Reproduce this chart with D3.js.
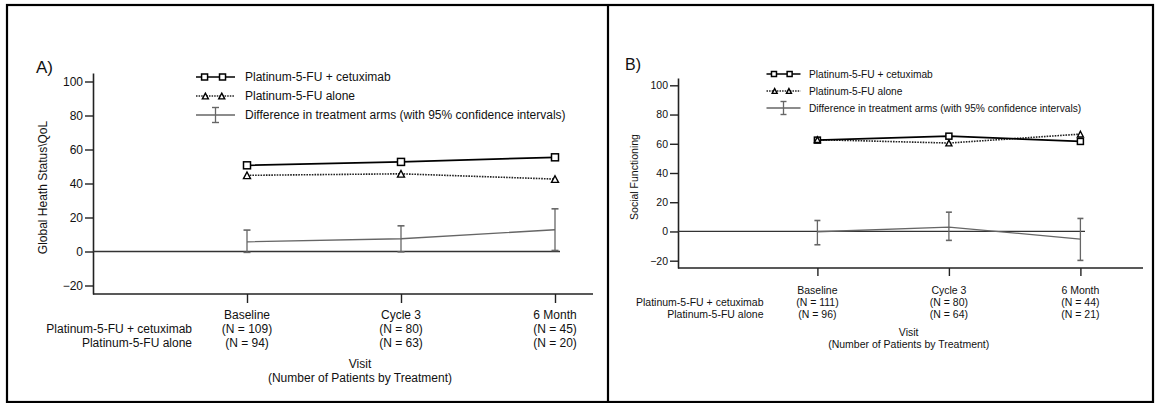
<!DOCTYPE html>
<html lang="en">
<head>
    <meta charset="UTF-8">
    <title>Quality of life by visit</title>
    <script src="https://d3js.org/d3.v7.min.js"></script>
    <style>
        body { margin: 0; background: #fff; }
        svg text { font-family: "Liberation Sans", Arial, Helvetica, sans-serif; fill: #111; }
        .axis path, .axis line { stroke: #222; }
    </style>
</head>
<body>
    <svg id="chart" width="1159" height="403"></svg>

    <script>
        // Shared labels
        const visits = ["Baseline", "Cycle 3", "6 Month"];
        const yTicks = [-20, 0, 20, 40, 60, 80, 100];
        const yDomain = [-25, 105];
        const armLabels = ["Platinum-5-FU + cetuximab", "Platinum-5-FU alone"];
        const legendLabels = ["Platinum-5-FU + cetuximab", "Platinum-5-FU alone",
            "Difference in treatment arms (with 95% confidence intervals)"];

        // Panel A - Global health status
        const cetuxA = [50.7, 52.7, 55.4];
        const aloneA = [44.8, 45.7, 42.6];
        const diffA = [5.7, 7.5, 12.8];
        const diffLoA = [-0.5, -0.2, 0.6];
        const diffHiA = [12.6, 15.1, 25.1];
        const nCetuxA = [109, 80, 45];
        const nAloneA = [94, 63, 20];

        // Panel B - Social functioning
        const cetuxB = [62.5, 65.2, 61.6];
        const aloneB = [62.8, 60.5, 66.6];
        const diffB = [-0.2, 3.0, -5.2];
        const diffLoB = [-9.1, -6.1, -19.8];
        const diffHiB = [7.5, 13.2, 8.9];
        const nCetuxB = [111, 80, 44];
        const nAloneB = [96, 64, 21];

        const svg = d3.select("#chart");

        // outer frame and divider
        svg.append("rect")
            .attr("x", 7).attr("y", 5).attr("width", 1146).attr("height", 397)
            .attr("fill", "none").attr("stroke", "#000").attr("stroke-width", 2.2);
        svg.append("line")
            .attr("x1", 608).attr("x2", 608).attr("y1", 5).attr("y2", 402)
            .attr("stroke", "#000").attr("stroke-width", 2.2);

        const panels = [
            {
                tag: "A)", tagX: 36, tagY: 73, tagSize: 17,
                yLabel: "Global Heath Status\\QoL", yLabelX: 43,
                axisX: 93, top: 73, bottom: 294, xFrom: 247, xTo: 555, axisEnd: 593, zeroEnd: 560,
                font: 12, tickLen: 8, xTickLen: 9, mark: 7, cap: 3.5,
                rowLabelX: 192, rowY: [315, 329, 343], visitX: 360, visitY: [364, 378],
                legX: 196, legW: 39, legTextX: 245, legY: [77, 96, 115], legFont: 12,
                cetux: cetuxA, alone: aloneA, diff: diffA, lo: diffLoA, hi: diffHiA,
                nCetux: nCetuxA, nAlone: nAloneA
            },
            {
                tag: "B)", tagX: 625, tagY: 70, tagSize: 16,
                yLabel: "Social Functioning", yLabelX: 634,
                axisX: 678, top: 78, bottom: 268, xFrom: 817.4, xTo: 1080.4, axisEnd: 1143, zeroEnd: 1085,
                font: 10.5, tickLen: 8, xTickLen: 8, mark: 6, cap: 3,
                rowLabelX: 763.5, rowY: [290, 302, 314], visitX: 908.7, visitY: [332, 344],
                legX: 766.5, legW: 34, legTextX: 809, legY: [74, 91, 108], legFont: 10.2,
                cetux: cetuxB, alone: aloneB, diff: diffB, lo: diffLoB, hi: diffHiB,
                nCetux: nCetuxB, nAlone: nAloneB
            }
        ];

        function square(g, x, y, s) {
            g.append("rect")
                .attr("x", x - s / 2).attr("y", y - s / 2)
                .attr("width", s).attr("height", s)
                .attr("fill", "#fff").attr("stroke", "#000").attr("stroke-width", 1.5);
        }

        function triangle(g, x, y, s) {
            const h = s * 0.95;
            g.append("path")
                .attr("d", `M${x},${y - h / 2}L${x + s / 2},${y + h / 2}L${x - s / 2},${y + h / 2}Z`)
                .attr("fill", "#fff").attr("stroke", "#000").attr("stroke-width", 1.4);
        }

        panels.forEach(p => {
            const g = svg.append("g");

            const x = d3.scalePoint().domain(visits).range([p.xFrom, p.xTo]);
            const y = d3.scaleLinear().domain(yDomain).range([p.bottom, p.top]);

            // panel tag
            g.append("text").attr("x", p.tagX).attr("y", p.tagY)
                .style("font-size", p.tagSize + "px").text(p.tag);

            // y axis
            g.append("g").attr("class", "axis")
                .attr("transform", `translate(${p.axisX},0)`)
                .call(d3.axisLeft(y).tickValues(yTicks).tickSize(p.tickLen).tickSizeOuter(0).tickPadding(2))
                .call(a => a.select(".domain").attr("stroke-width", 1.6))
                .call(a => a.selectAll(".tick line").attr("stroke-width", 1.4))
                .call(a => a.selectAll("text").style("font-size", p.font + "px")
                    .attr("font-family", "Liberation Sans, Arial, sans-serif").attr("fill", "#111"));

            g.append("text")
                .attr("transform", `translate(${p.yLabelX},${(p.top + p.bottom) / 2 + 4}) rotate(-90)`)
                .attr("text-anchor", "middle").attr("dy", "0.35em")
                .style("font-size", p.font + "px").text(p.yLabel);

            // x axis line and ticks
            g.append("line")
                .attr("x1", p.axisX).attr("x2", p.axisEnd)
                .attr("y1", p.bottom).attr("y2", p.bottom)
                .attr("stroke", "#222").attr("stroke-width", 1.6);
            g.append("g").attr("class", "axis")
                .attr("transform", `translate(0,${p.bottom})`)
                .call(d3.axisBottom(x).tickSize(p.xTickLen).tickFormat(""))
                .call(a => a.select(".domain").remove())
                .call(a => a.selectAll(".tick line").attr("stroke-width", 1.4));

            // category labels with patient counts
            visits.forEach((v, i) => {
                const rows = [v, `(N = ${p.nCetux[i]})`, `(N = ${p.nAlone[i]})`];
                rows.forEach((t, j) => {
                    g.append("text").attr("x", x(v)).attr("y", p.rowY[j])
                        .attr("text-anchor", "middle").attr("dy", "0.35em")
                        .style("font-size", p.font + "px").text(t);
                });
            });
            armLabels.forEach((t, j) => {
                g.append("text").attr("x", p.rowLabelX).attr("y", p.rowY[j + 1])
                    .attr("text-anchor", "end").attr("dy", "0.35em")
                    .style("font-size", p.font + "px").text(t);
            });
            ["Visit", "(Number of Patients by Treatment)"].forEach((t, j) => {
                g.append("text").attr("x", p.visitX).attr("y", p.visitY[j])
                    .attr("text-anchor", "middle").attr("dy", "0.35em")
                    .style("font-size", p.font + "px").text(t);
            });

            // zero reference line
            g.append("line")
                .attr("x1", p.axisX).attr("x2", p.zeroEnd)
                .attr("y1", y(0)).attr("y2", y(0))
                .attr("stroke", "#333").attr("stroke-width", 1.3);

            const line = d3.line().x((d, i) => x(visits[i])).y(d => y(d));

            // difference with CI
            g.append("path").datum(p.diff).attr("d", line)
                .attr("fill", "none").attr("stroke", "#666").attr("stroke-width", 1.3);
            visits.forEach((v, i) => {
                const cx = x(v);
                const eb = g.append("g").attr("stroke", "#666").attr("stroke-width", 1.3);
                eb.append("line").attr("x1", cx).attr("x2", cx)
                    .attr("y1", y(p.lo[i])).attr("y2", y(p.hi[i]));
                [p.lo[i], p.hi[i]].forEach(val => {
                    eb.append("line").attr("x1", cx - p.cap).attr("x2", cx + p.cap)
                        .attr("y1", y(val)).attr("y2", y(val)).attr("stroke-width", 1.6);
                });
            });

            // treatment arms
            g.append("path").datum(p.alone).attr("d", line)
                .attr("fill", "none").attr("stroke", "#222").attr("stroke-width", 1.6)
                .attr("stroke-dasharray", "1.6,1.1");
            g.append("path").datum(p.cetux).attr("d", line)
                .attr("fill", "none").attr("stroke", "#000").attr("stroke-width", 1.7);
            p.cetux.forEach((d, i) => square(g, x(visits[i]), y(d), p.mark));
            p.alone.forEach((d, i) => triangle(g, x(visits[i]), y(d), p.mark));

            // legend
            const lg = g.append("g");
            const lx0 = p.legX, lx1 = p.legX + p.legW;
            lg.append("line").attr("x1", lx0).attr("x2", lx1)
                .attr("y1", p.legY[0]).attr("y2", p.legY[0])
                .attr("stroke", "#000").attr("stroke-width", 1.6);
            square(lg, lx0 + p.legW * 0.22, p.legY[0], p.mark - 1);
            square(lg, lx0 + p.legW * 0.68, p.legY[0], p.mark - 1);

            lg.append("line").attr("x1", lx0).attr("x2", lx1)
                .attr("y1", p.legY[1]).attr("y2", p.legY[1])
                .attr("stroke", "#222").attr("stroke-width", 1.5).attr("stroke-dasharray", "1.5,1.1");
            triangle(lg, lx0 + p.legW * 0.24, p.legY[1], p.mark - 1);
            triangle(lg, lx0 + p.legW * 0.66, p.legY[1], p.mark - 1);

            const ebx = lx0 + p.legW * 0.5, ebh = p.mark + 0.5;
            lg.append("line").attr("x1", lx0).attr("x2", lx1)
                .attr("y1", p.legY[2]).attr("y2", p.legY[2])
                .attr("stroke", "#666").attr("stroke-width", 1.3);
            lg.append("line").attr("x1", ebx).attr("x2", ebx)
                .attr("y1", p.legY[2] - ebh).attr("y2", p.legY[2] + ebh)
                .attr("stroke", "#666").attr("stroke-width", 1.3);
            [-ebh, ebh].forEach(o => {
                lg.append("line").attr("x1", ebx - p.cap).attr("x2", ebx + p.cap)
                    .attr("y1", p.legY[2] + o).attr("y2", p.legY[2] + o)
                    .attr("stroke", "#666").attr("stroke-width", 1.4);
            });

            legendLabels.forEach((t, j) => {
                lg.append("text").attr("x", p.legTextX).attr("y", p.legY[j])
                    .attr("dy", "0.35em").style("font-size", p.legFont + "px").text(t);
            });
        });
    </script>
</body>
</html>
